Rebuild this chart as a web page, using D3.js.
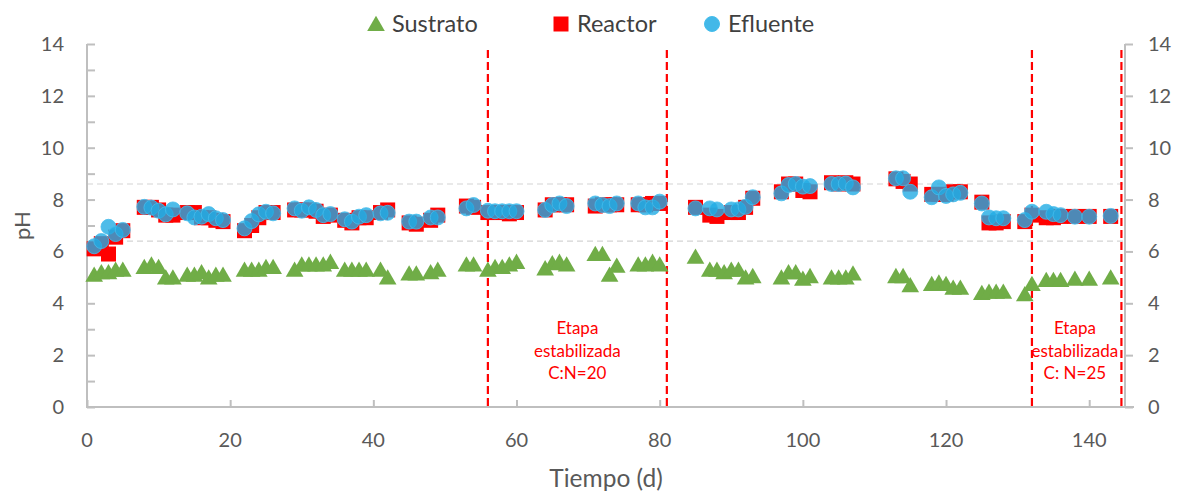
<!DOCTYPE html>
<html>
<head>
<meta charset="utf-8">
<script src="https://cdn.jsdelivr.net/npm/d3@7"></script>
<style>
  body { margin: 0; background: #fff; }
  text { font-family: Lato, 'Liberation Sans', sans-serif; }
</style>
</head>
<body>
<svg id="chart"></svg>
<script>
// Sustrato (green triangles)
const susDays = [1, 2, 3, 4, 5, 8, 9, 10, 11, 12, 14, 15, 16, 17, 18, 19, 22, 23, 24, 25, 26,
  29, 30, 31, 32, 33, 34, 36, 37, 38, 39, 41, 42, 45, 46, 48, 49, 53, 54, 56, 57, 58, 59, 60,
  64, 65, 66, 67, 71, 72, 73, 74, 77, 78, 79, 80, 85, 87, 88, 89, 90, 91, 92, 93,
  97, 98, 99, 100, 101, 104, 105, 106, 107, 113, 114, 115, 118, 119, 120, 121, 122,
  125, 126, 127, 128, 131, 132, 134, 135, 136, 138, 140, 143];
const susPH = [5.1, 5.2, 5.2, 5.3, 5.3, 5.4, 5.5, 5.4, 5.0, 5.0, 5.1, 5.1, 5.2, 5.0, 5.1, 5.1,
  5.3, 5.3, 5.3, 5.4, 5.4, 5.3, 5.5, 5.5, 5.5, 5.5, 5.6, 5.3, 5.3, 5.3, 5.3, 5.3, 5.0,
  5.15, 5.15, 5.2, 5.3, 5.5, 5.5, 5.3, 5.4, 5.4, 5.5, 5.6, 5.35, 5.55, 5.6, 5.5,
  5.9, 5.9, 5.1, 5.45, 5.5, 5.5, 5.6, 5.5, 5.8, 5.3, 5.3, 5.2, 5.3, 5.3, 5.0, 5.05,
  5.0, 5.2, 5.2, 4.95, 5.05, 5.0, 5.0, 5.0, 5.15, 5.05, 5.05, 4.7, 4.75, 4.8, 4.75, 4.6, 4.6,
  4.4, 4.45, 4.45, 4.45, 4.35, 4.75, 4.9, 4.9, 4.9, 4.95, 4.95, 5.0];

// Reactor and Efluente share sampling days
const sampleDays = [1, 2, 3, 4, 5, 8, 9, 10, 11, 12, 14, 15, 16, 17, 18, 19, 22, 23, 24, 25, 26,
  29, 30, 31, 32, 33, 34, 36, 37, 38, 39, 41, 42, 45, 46, 48, 49, 53, 54, 56, 57, 58, 59, 60,
  64, 65, 66, 67, 71, 72, 73, 74, 77, 78, 79, 80, 85, 87, 88, 90, 91, 92, 93,
  97, 98, 99, 100, 101, 104, 105, 106, 107, 113, 114, 115, 118, 119, 120, 121, 122,
  125, 126, 127, 128, 131, 132, 134, 135, 136, 138, 140, 143];
const reactorPH = [6.1, 6.3, 5.9, 6.55, 6.8, 7.7, 7.7, 7.6, 7.4, 7.4, 7.5, 7.5, 7.3, 7.3, 7.2, 7.15,
  6.8, 7.0, 7.3, 7.5, 7.5, 7.6, 7.6, 7.6, 7.55, 7.35, 7.4, 7.2, 7.1, 7.3, 7.3, 7.5, 7.6,
  7.1, 7.05, 7.2, 7.4, 7.75, 7.7, 7.5, 7.5, 7.5, 7.45, 7.5, 7.6, 7.8, 7.8, 7.8,
  7.75, 7.8, 7.8, 7.8, 7.8, 7.8, 7.85, 7.85, 7.7, 7.4, 7.35, 7.5, 7.5, 7.7, 8.05,
  8.3, 8.6, 8.6, 8.35, 8.3, 8.65, 8.6, 8.65, 8.6, 8.8, 8.7, 8.6, 8.2, 8.2, 8.2, 8.3, 8.3,
  7.9, 7.1, 7.1, 7.15, 7.15, 7.4, 7.3, 7.3, 7.35, 7.35, 7.35, 7.35];
const efluentePH = [6.2, 6.4, 6.95, 6.67, 6.83, 7.72, 7.69, 7.57, 7.43, 7.62, 7.47, 7.31, 7.34, 7.44, 7.28, 7.21,
  6.89, 7.17, 7.43, 7.53, 7.47, 7.66, 7.57, 7.7, 7.6, 7.4, 7.44, 7.24, 7.15, 7.34, 7.4, 7.47, 7.49,
  7.15, 7.15, 7.31, 7.31, 7.66, 7.79, 7.57, 7.55, 7.55, 7.55, 7.55, 7.6, 7.79, 7.85, 7.75,
  7.85, 7.79, 7.75, 7.85, 7.85, 7.7, 7.7, 7.92, 7.66, 7.66, 7.62, 7.62, 7.62, 7.72, 8.09,
  8.24, 8.56, 8.6, 8.5, 8.52, 8.6, 8.6, 8.62, 8.47, 8.82, 8.82, 8.3, 8.09, 8.47, 8.14, 8.2, 8.26,
  7.85, 7.31, 7.28, 7.28, 7.21, 7.53, 7.53, 7.44, 7.4, 7.34, 7.34, 7.37];

const xTicks = [0, 20, 40, 60, 80, 100, 120, 140];
const yTicks = [0, 2, 4, 6, 8, 10, 12, 14];
const stageLines = [56, 81, 132, 144.5];
const rangeLines = [6.4, 8.6];
const stageNotes = [
  {x: 68.5, lines: ['Etapa', 'estabilizada', 'C:N=20']},
  {x: 138, lines: ['Etapa', 'estabilizada', 'C: N=25']}
];
const legendItems = ['Sustrato', 'Reactor', 'Efluente'];

const width = 1184, height = 494;
const margin = {top: 44, right: 59, bottom: 87, left: 87};
const gWidth = width - margin.left - margin.right;
const gHeight = height - margin.top - margin.bottom;

const green = '#70ad47', red = '#ff0000', blue = '#22abe4';
const axisGrey = '#bfbfbf', textGrey = '#595959', darkText = '#404040';

const svg = d3.select('#chart')
  .attr('width', width)
  .attr('height', height)
  .append('g')
    .attr('transform', `translate(${margin.left}, ${margin.top})`);

const xScale = d3.scaleLinear().domain([0, 145]).range([0, gWidth]);
const yScale = d3.scaleLinear().domain([0, 14]).range([gHeight, 0]);

// dashed pH range guides
svg.selectAll('line.range')
  .data(rangeLines)
  .enter().append('line')
  .attr('class', 'range')
  .attr('x1', 0).attr('x2', gWidth)
  .attr('y1', yScale).attr('y2', yScale)
  .attr('stroke', '#d4d4d4')
  .attr('stroke-width', 1.2)
  .attr('stroke-dasharray', '6 4');

// axes: left with minor ticks inside, right with major ticks outside
const leftAxis = svg.append('g')
  .call(d3.axisRight(yScale).tickValues(d3.range(0, 15)).tickSize(8).tickFormat(''));
const rightAxis = svg.append('g')
  .attr('transform', `translate(${gWidth}, 0)`)
  .call(d3.axisRight(yScale).tickValues(yTicks).tickSize(8).tickFormat(''));
const bottomAxis = svg.append('g')
  .attr('transform', `translate(0, ${gHeight})`)
  .call(d3.axisTop(xScale).tickValues(xTicks).tickSize(7).tickFormat(''));
[leftAxis, rightAxis, bottomAxis].forEach(a => a.select('.domain').remove());
leftAxis.append('line').attr('y1', 0).attr('y2', gHeight);
rightAxis.append('line').attr('y1', 0).attr('y2', gHeight);
bottomAxis.append('line').attr('x1', -1).attr('x2', gWidth + 9);
[leftAxis, rightAxis, bottomAxis].forEach(a => a.selectAll('line').attr('stroke', axisGrey).attr('stroke-width', 2));

// tick labels
svg.selectAll('text.yl')
  .data(yTicks)
  .enter().append('text')
  .attr('x', -23).attr('y', d => yScale(d) + 7)
  .attr('text-anchor', 'end')
  .attr('font-size', 20).attr('fill', textGrey)
  .text(d => d);
svg.selectAll('text.yr')
  .data(yTicks)
  .enter().append('text')
  .attr('x', gWidth + 23).attr('y', d => yScale(d) + 7)
  .attr('font-size', 20).attr('fill', textGrey)
  .text(d => d);
svg.selectAll('text.xl')
  .data(xTicks)
  .enter().append('text')
  .attr('x', xScale).attr('y', gHeight + 40)
  .attr('text-anchor', 'middle')
  .attr('font-size', 20).attr('fill', textGrey)
  .text(d => d);

// axis titles
svg.append('text')
  .attr('transform', `translate(${-57}, ${gHeight / 2}) rotate(-90)`)
  .attr('text-anchor', 'middle')
  .attr('font-size', 22).attr('fill', textGrey)
  .text('pH');
svg.append('text')
  .attr('x', xScale(72.5)).attr('y', gHeight + 80)
  .attr('text-anchor', 'middle')
  .attr('font-size', 24.5).attr('fill', textGrey)
  .text('Tiempo (d)');

// stage separators
svg.selectAll('line.stage')
  .data(stageLines)
  .enter().append('line')
  .attr('class', 'stage')
  .attr('x1', xScale).attr('x2', xScale)
  .attr('y1', 6).attr('y2', gHeight)
  .attr('stroke', red)
  .attr('stroke-width', 2.2)
  .attr('stroke-dasharray', '8 4');

stageNotes.forEach(n => {
  const t = svg.append('text')
    .attr('x', xScale(n.x)).attr('y', yScale(2.8))
    .attr('text-anchor', 'middle')
    .attr('font-size', 17).attr('fill', red);
  n.lines.forEach((l, i) => {
    t.append('tspan').attr('x', xScale(n.x)).attr('dy', i === 0 ? 0 : 22.5).text(l);
  });
});

// series
const tri = d3.symbol().type(d3.symbolTriangle).size(135);
const sq = d3.symbol().type(d3.symbolSquare).size(225);

svg.append('g').selectAll('path')
  .data(susDays.map((d, i) => [d, susPH[i]]))
  .enter().append('path')
  .attr('d', tri)
  .attr('transform', d => `translate(${xScale(d[0])}, ${yScale(d[1]) + 2})`)
  .attr('fill', green);

svg.append('g').selectAll('path')
  .data(sampleDays.map((d, i) => [d, reactorPH[i]]))
  .enter().append('path')
  .attr('d', sq)
  .attr('transform', d => `translate(${xScale(d[0])}, ${yScale(d[1])})`)
  .attr('fill', red);

svg.append('g').selectAll('circle')
  .data(sampleDays.map((d, i) => [d, efluentePH[i]]))
  .enter().append('circle')
  .attr('cx', d => xScale(d[0]))
  .attr('cy', d => yScale(d[1]))
  .attr('r', 7.5)
  .attr('fill', blue)
  .attr('fill-opacity', 0.8)
  .attr('stroke', '#45bdec')
  .attr('stroke-width', 0.8);

// legend
const legendX = [376, 561, 712];
const legend = d3.select('#chart').append('g');
legendItems.forEach((name, i) => {
  const g = legend.append('g').attr('transform', `translate(${legendX[i]}, 24)`);
  if (i === 0) g.append('path').attr('d', tri).attr('fill', green).attr('transform', 'translate(0, 2)');
  if (i === 1) g.append('path').attr('d', sq).attr('fill', red);
  if (i === 2) g.append('circle').attr('r', 7.5).attr('fill', blue).attr('fill-opacity', 0.85).attr('stroke', '#45bdec');
  g.append('text')
    .attr('x', 16).attr('y', 8)
    .attr('font-size', 23.5).attr('fill', darkText)
    .text(name);
});
</script>
</body>
</html>
